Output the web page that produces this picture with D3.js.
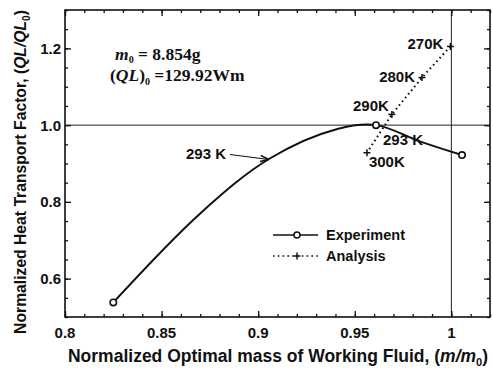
<!DOCTYPE html>
<html>
<head>
<meta charset="utf-8">
<script src="https://cdn.jsdelivr.net/npm/d3@7"></script>
<style>
  html, body { margin: 0; padding: 0; background: #fff; }
  svg { display: block; }
  .lbl { font-family: "Liberation Sans", Arial, sans-serif; font-weight: bold; fill: #111; }
  .serif { font-family: "Liberation Serif", "Times New Roman", serif; font-weight: bold; fill: #111; }
</style>
</head>
<body>
<svg id="chart" width="493" height="370"></svg>
<script>
// Measured experiment: optimal mass ratio vs heat transport factor
const expMass = [0.825, 0.961, 1.0055];
const expQL = [0.538, 1.0, 0.922];
// Smooth experiment trend line
const expCurveMass = [0.825, 0.870, 0.906, 0.941, 0.961, 0.984, 1.0055];
const expCurveQL = [0.538, 0.770, 0.913, 0.990, 1.0, 0.957, 0.922];
// Analysis at different operating temperatures
const anaTemps = ["270K", "280K", "290K", "300K"];
const anaMass = [0.9995, 0.9848, 0.9692, 0.9563];
const anaQL = [1.205, 1.124, 1.028, 0.928];
// Axis ticks
const xTicks = [0.8, 0.85, 0.9, 0.95, 1];
const xTickLabels = ["0.8", "0.85", "0.9", "0.95", "1"];
const yTicks = [0.6, 0.8, 1.0, 1.2];
const yTickLabels = ["0.6", "0.8", "1.0", "1.2"];

const svg = d3.select("#chart");
const L = 65, R = 490, T = 10, B = 317;
const x = d3.scaleLinear().domain([0.8, 1.02]).range([L, R]);
const y = d3.scaleLinear().domain([0.5, 1.3]).range([B, T]);

const xMinor = d3.range(0.80, 1.0201, 0.01).map(v => +v.toFixed(2));
const yMinor = d3.range(0.5, 1.3001, 0.05).map(v => +v.toFixed(2));

// reference lines at m/m0 = 1 and QL/QL0 = 1
svg.append("line").attr("x1", x(1)).attr("x2", x(1)).attr("y1", T).attr("y2", B)
  .attr("stroke", "#222").attr("stroke-width", 1);
svg.append("line").attr("x1", L).attr("x2", R).attr("y1", y(1)).attr("y2", y(1))
  .attr("stroke", "#222").attr("stroke-width", 1);

// inward ticks on all four sides
function ticks(axisGen, transform, vals, size) {
  const g = svg.append("g").attr("transform", transform)
    .call(axisGen.tickValues(vals).tickSize(size).tickFormat(""));
  g.select(".domain").remove();
  g.selectAll("line").attr("stroke", "#111").attr("stroke-width", 1.3);
}
ticks(d3.axisTop(x), `translate(0,${B})`, xMinor, 3);
ticks(d3.axisTop(x), `translate(0,${B})`, xTicks, 6);
ticks(d3.axisBottom(x), `translate(0,${T})`, xMinor, 3);
ticks(d3.axisBottom(x), `translate(0,${T})`, xTicks, 6);
ticks(d3.axisRight(y), `translate(${L},0)`, yMinor, 3);
ticks(d3.axisRight(y), `translate(${L},0)`, yTicks, 6);
ticks(d3.axisLeft(y), `translate(${R},0)`, yMinor, 3);
ticks(d3.axisLeft(y), `translate(${R},0)`, yTicks, 6);

// frame
svg.append("rect").attr("x", L).attr("y", T).attr("width", R - L).attr("height", B - T)
  .attr("fill", "none").attr("stroke", "#111").attr("stroke-width", 1.6);

// tick labels
svg.selectAll(".xl").data(xTicks).enter().append("text").attr("class", "lbl")
  .attr("x", d => x(d)).attr("y", 338).attr("text-anchor", "middle")
  .attr("font-size", 15).text((d, i) => xTickLabels[i]);
svg.selectAll(".yl").data(yTicks).enter().append("text").attr("class", "lbl")
  .attr("x", 61).attr("y", d => y(d) + 5.5).attr("text-anchor", "end")
  .attr("font-size", 15).text((d, i) => yTickLabels[i]);

// axis titles
const xt = svg.append("text").attr("class", "lbl").attr("x", 278).attr("y", 362)
  .attr("text-anchor", "middle").attr("font-size", 17.5);
xt.append("tspan").text("Normalized Optimal mass of Working Fluid, (");
xt.append("tspan").attr("font-style", "italic").text("m/m");
xt.append("tspan").attr("font-size", 11).attr("dy", 4).text("0");
xt.append("tspan").attr("dy", -4).text(")");

const yt = svg.append("text").attr("class", "lbl")
  .attr("transform", "translate(26,172) rotate(-90)")
  .attr("text-anchor", "middle").attr("font-size", 15.7);
yt.append("tspan").text("Normalized Heat Transport Factor, (");
yt.append("tspan").attr("font-style", "italic").text("QL/QL");
yt.append("tspan").attr("font-size", 10).attr("dy", 4).text("0");
yt.append("tspan").attr("dy", -4).text(")");

// experiment trend
const expCurve = expCurveMass.map((m, i) => [m, expCurveQL[i]]);
svg.append("path").datum(expCurve)
  .attr("d", d3.line().x(d => x(d[0])).y(d => y(d[1])).curve(d3.curveCatmullRom.alpha(0.5)))
  .attr("fill", "none").attr("stroke", "#111").attr("stroke-width", 2);
svg.selectAll(".em").data(expMass).enter().append("circle")
  .attr("cx", d => x(d)).attr("cy", (d, i) => y(expQL[i])).attr("r", 3.2)
  .attr("fill", "#fff").attr("stroke", "#111").attr("stroke-width", 1.6);

// analysis line
const ana = anaMass.map((m, i) => [m, anaQL[i]]);
svg.append("path").datum(ana)
  .attr("d", d3.line().x(d => x(d[0])).y(d => y(d[1])))
  .attr("fill", "none").attr("stroke", "#111").attr("stroke-width", 2)
  .attr("stroke-dasharray", "1.6,3.2");
function cross(g, cx, cy) {
  g.append("line").attr("x1", cx - 3.5).attr("x2", cx + 3.5).attr("y1", cy).attr("y2", cy)
    .attr("stroke", "#111").attr("stroke-width", 1.5);
  g.append("line").attr("x1", cx).attr("x2", cx).attr("y1", cy - 3.5).attr("y2", cy + 3.5)
    .attr("stroke", "#111").attr("stroke-width", 1.5);
}
ana.forEach(d => cross(svg, x(d[0]), y(d[1])));

// temperature labels along the analysis line
const tempOffsets = [[-7, 3, "end"], [-7, 4, "end"], [-3, -3, "end"], [2, 14, "start"]];
anaTemps.forEach((t, i) => {
  const o = tempOffsets[i];
  svg.append("text").attr("class", "lbl").attr("font-size", 15)
    .attr("x", x(anaMass[i]) + o[0]).attr("y", y(anaQL[i]) + o[1])
    .attr("text-anchor", o[2]).text(t);
});
svg.append("text").attr("class", "lbl").attr("font-size", 15)
  .attr("x", 383).attr("y", 145).text("293 K");

// 293 K pointer to the experiment curve
svg.append("text").attr("class", "lbl").attr("font-size", 15)
  .attr("x", 186).attr("y", 159).text("293 K");
const ax0 = 230, ay0 = 154.5, ax1 = x(0.906) - 1, ay1 = y(0.913) + 1;
svg.append("line").attr("x1", ax0).attr("y1", ay0).attr("x2", ax1).attr("y2", ay1)
  .attr("stroke", "#111").attr("stroke-width", 1.2);
const ang = Math.atan2(ay1 - ay0, ax1 - ax0);
const hl = 9, hw = 0.35;
svg.append("path")
  .attr("d", `M${ax1},${ay1} L${ax1 - hl * Math.cos(ang - hw)},${ay1 - hl * Math.sin(ang - hw)} M${ax1},${ay1} L${ax1 - hl * Math.cos(ang + hw)},${ay1 - hl * Math.sin(ang + hw)}`)
  .attr("stroke", "#111").attr("stroke-width", 1.6).attr("fill", "none");

// reference mass and heat transport
const a1 = svg.append("text").attr("class", "serif").attr("x", 115).attr("y", 60).attr("font-size", 17.5);
a1.append("tspan").attr("font-style", "italic").text("m");
a1.append("tspan").attr("font-size", 10).attr("dy", 3).text("0");
a1.append("tspan").attr("dy", -3).text(" = 8.854g");
const a2 = svg.append("text").attr("class", "serif").attr("x", 110).attr("y", 81).attr("font-size", 17.5);
a2.append("tspan").text("(");
a2.append("tspan").attr("font-style", "italic").text("QL");
a2.append("tspan").text(")");
a2.append("tspan").attr("font-size", 10).attr("dy", 4).text("0");
a2.append("tspan").attr("dy", -4).text(" =129.92Wm");

// legend
const lg = svg.append("g");
lg.append("line").attr("x1", 273).attr("x2", 318).attr("y1", 235).attr("y2", 235)
  .attr("stroke", "#111").attr("stroke-width", 1.6);
lg.append("circle").attr("cx", 297).attr("cy", 235).attr("r", 3)
  .attr("fill", "#fff").attr("stroke", "#111").attr("stroke-width", 1.5);
lg.append("text").attr("class", "lbl").attr("font-size", 14.5).attr("x", 326).attr("y", 240).text("Experiment");
lg.append("line").attr("x1", 273).attr("x2", 318).attr("y1", 256).attr("y2", 256)
  .attr("stroke", "#111").attr("stroke-width", 1.6).attr("stroke-dasharray", "1.6,3.2");
cross(lg, 297, 256);
lg.append("text").attr("class", "lbl").attr("font-size", 14.5).attr("x", 326).attr("y", 261).text("Analysis");
</script>
</body>
</html>
